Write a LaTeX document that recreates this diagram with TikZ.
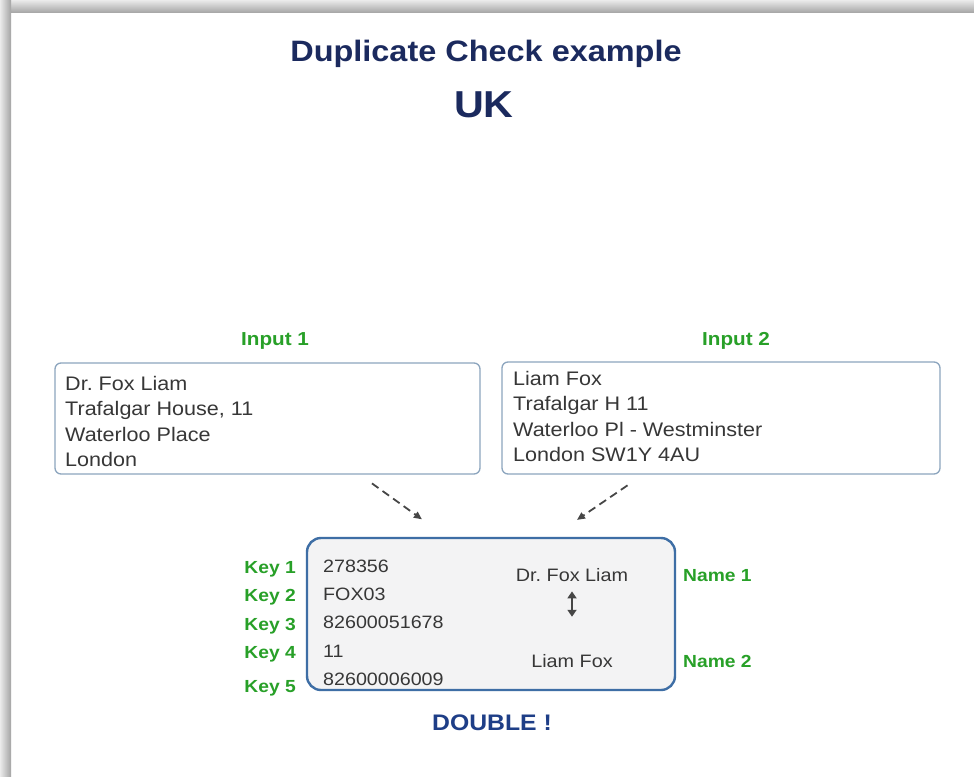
\documentclass[tikz,border=0pt]{standalone}
\usepackage{fontspec}
\setmainfont{Liberation Sans}[FakeStretch=1.1]
\usepackage{xcolor}
\usetikzlibrary{arrows.meta}
\definecolor{titlenavy}{RGB}{27, 42, 94}
\definecolor{doubleblue}{RGB}{30, 62, 135}
\definecolor{keygreen}{RGB}{40, 160, 40}
\definecolor{inputframe}{RGB}{140, 165, 190}
\definecolor{checkframe}{RGB}{62, 110, 165}
\definecolor{checkfill}{RGB}{243, 243, 244}
\definecolor{bodytext}{RGB}{55, 55, 55}
\definecolor{arrowgray}{RGB}{70, 70, 70}
\frenchspacing

\begin{document}
\begin{tikzpicture}[x=1pt, y=-1pt,
        inputbox/.style={draw=inputframe, line width=1.3pt, fill=white, rounded corners=6pt},
        addr/.style={anchor=north west, inner sep=0pt, align=left, text=bodytext, font=\fontsize{19.6}{25.5}\selectfont},
        greenlbl/.style={text=keygreen, inner sep=0pt, font=\bfseries\fontsize{#1}{20}\selectfont},
        greenlbl/.default=17.5,
        keyval/.style={text=bodytext, inner sep=0pt, anchor=base west, font=\fontsize{17.9}{20}\selectfont},
        pname/.style={text=bodytext, inner sep=0pt, anchor=base, font=\fontsize{18}{20}\selectfont},
        dasharrow/.style={draw=arrowgray, line width=1.8pt, dash pattern=on 8pt off 5pt, -{Triangle[length=8pt,width=7pt]}}
    ]
        \useasboundingbox (0,0) rectangle (974,776);
        \fill[white] (0,0) rectangle (974,776);

        % Frame shadow
        \shade[top color=black!8, bottom color=black!36] (0,0) rectangle (974,13);
        \shade[left color=black!8, right color=black!36] (0,0) rectangle (11,776);

        % Title
        \node[text=titlenavy, font=\bfseries\fontsize{29.5}{32}\selectfont, anchor=base] (title) at (486,62) {Duplicate Check example};
        \node[text=titlenavy, font=\bfseries\fontsize{37.5}{40}\selectfont, anchor=base] (country) at (484,117) {UK};

        % Input 1
        \node[greenlbl=18.8, anchor=base] (inlbl1) at (275,345) {Input 1};
        \node[inputbox, minimum width=425pt, minimum height=111pt] (inbox1) at (267.5,418.5) {};
        \node[addr] (addr1) at (65,376) {Dr. Fox Liam\\Trafalgar House, 11\\Waterloo Place\\London};

        % Input 2
        \node[greenlbl=18.8, anchor=base] (inlbl2) at (736,345) {Input 2};
        \node[inputbox, minimum width=438pt, minimum height=112pt] (inbox2) at (721,418) {};
        \node[addr] (addr2) at (513,371) {Liam Fox\\Trafalgar H 11\\Waterloo Pl - Westminster\\London SW1Y 4AU};

        % Check box
        \node[draw=checkframe, line width=2.4pt, fill=checkfill, rounded corners=14pt, minimum width=368pt, minimum height=152pt] (check) at (491,614) {};

        \draw[dasharrow, shorten <=15pt, shorten >=30pt] ([xshift=92.3pt]inbox1.south) -- ([xshift=-44.7pt]check.north);
        \draw[dasharrow, shorten <=19pt, shorten >=30pt] ([xshift=-77.8pt]inbox2.south) -- ([xshift=61.2pt]check.north);

        % Keys
        \foreach \k/\v/\ky/\vy in {1/278356/573/572, 2/FOX03/601/600, 3/82600051678/630/628, 4/11/658/657, 5/82600006009/692/685} {
            \node[greenlbl, anchor=base east] (key\k) at (296,\ky) {Key \k};
            \node[keyval] (val\k) at (323,\vy) {\v};
        }

        % Names
        \node[pname] (name1) at (572,581) {Dr. Fox Liam};
        \node[pname] (name2) at (572,667) {Liam Fox};
        \draw[arrowgray, line width=2pt, {Triangle[length=7pt,width=9pt]}-{Triangle[length=7pt,width=9pt]}, shorten <=10pt, shorten >=37pt] (name1.south) -- (name2.north);
        \node[greenlbl, anchor=base west] (nlbl1) at (683,581) {Name 1};
        \node[greenlbl, anchor=base west] (nlbl2) at (683,667) {Name 2};

        % Result
        \node[text=doubleblue, font=\bfseries\fontsize{22.5}{24}\selectfont, anchor=base] (verdict) at (492,730) {DOUBLE !};
    \end{tikzpicture}
\end{document}
